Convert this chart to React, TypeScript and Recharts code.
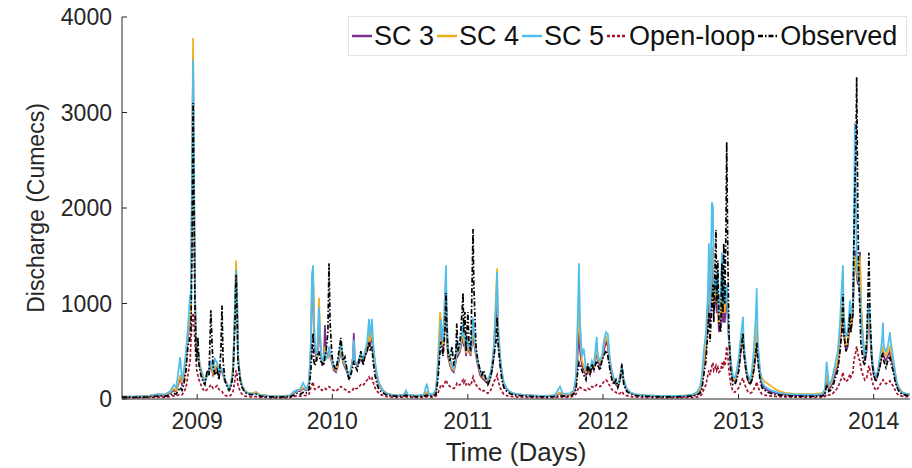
import React from 'react';
import { LineChart, Line, XAxis, YAxis, Label } from 'recharts';

// time axis: day number from the left edge of the record
const days = [
  0,35,70,97,116,130,140,146,151,157,162,167,173,178,184,186,189,192,194,197,200,202,205,208,213,219,224,230,235,240,243,246,251,257,262,267,270,273,278,284,289,294,300,305,308,311,313,319,324,332,340,351,362,373,400,427,454,
  464,473,481,489,497,505,510,513,516,518,521,527,532,535,540,545,548,551,556,559,562,567,572,578,583,591,597,602,608,613,618,624,626,629,635,640,645,651,656,662,667,670,675,678,683,689,694,702,713,724,745,761,767,772,794,815,823,829,
  840,848,853,859,861,867,872,875,877,880,886,891,896,902,904,907,913,918,921,923,926,929,934,937,942,948,950,956,961,967,972,977,983,988,994,999,1004,1010,1013,1015,1021,1026,1031,1039,1048,1061,1088,1115,1142,1169,1183,1191,1210,
  1220,1226,1231,1234,1237,1242,1247,1253,1258,1264,1269,1274,1282,1285,1291,1296,1301,1307,1312,1318,1323,1328,1334,1339,1345,1350,1355,1363,1374,1388,1412,1439,1466,1493,1520,1539,1552,
  1561,1566,1571,1577,1582,1585,1588,1593,1596,1598,1604,1606,1609,1612,1617,1620,1623,1625,1628,1631,1633,1636,1639,1644,1650,1655,1660,1666,1671,1677,1679,1685,1690,1696,1701,1706,1712,1714,1717,1723,1728,1736,1744,1755,1766,1777,1790,1817,1844,1871,1890,
  1898,1903,1909,1917,1925,1933,1939,1944,1947,1949,1955,1960,1966,1968,1974,1976,1979,1982,1984,1987,1990,1993,1995,2001,2006,2011,2014,2017,2020,2025,2030,2036,2041,2047,2052,2055,2057,2063,2068,2074,2076,2082,2087,2092,2098,2106,2117,2128,
];

const observed = [
  20,18,22,30,28,40,60,50,80,120,90,150,300,550,650,700,1500,3100,2200,1000,500,400,650,350,250,180,150,300,250,930,600,350,250,300,200,500,980,400,200,120,90,120,250,800,1300,900,400,200,120,70,50,45,50,30,22,20,25,
  40,60,50,70,60,100,300,500,690,400,350,450,500,400,380,350,450,500,700,1420,800,450,350,300,420,640,400,440,300,200,250,350,400,350,300,400,500,350,450,500,600,500,550,400,250,150,100,70,45,35,28,30,40,30,25,28,40,30,
  30,50,200,500,600,450,700,1110,800,500,400,550,350,500,790,500,600,900,1110,700,910,500,910,600,500,1780,1200,550,400,300,250,300,200,150,200,300,440,600,860,600,350,200,120,80,55,40,30,25,22,25,35,30,30,
  50,100,300,380,350,300,250,200,370,250,370,300,400,350,300,400,450,510,450,300,200,150,200,120,200,370,150,80,50,35,28,24,22,22,25,30,40,
  60,100,250,400,700,900,600,1000,1200,800,1770,1000,1450,800,700,1420,900,1630,1000,1800,2690,1500,700,300,150,150,200,300,500,690,500,300,200,150,200,300,500,590,400,200,120,90,70,55,45,40,35,30,28,28,30,
  40,150,80,100,200,300,500,700,1100,700,500,600,900,700,900,1500,2200,2600,3370,2000,1200,900,600,400,350,600,1000,1530,900,400,250,180,250,350,450,480,400,330,400,450,380,300,200,130,80,50,40,35,
];

const sc3 = [
  25,22,30,45,40,60,90,80,140,220,150,220,420,650,800,900,2200,3600,2500,1100,600,450,500,400,300,220,180,250,280,350,300,250,300,350,250,300,280,250,180,150,110,140,300,900,1400,1000,450,220,140,80,60,55,70,40,30,28,35,
  60,90,80,110,90,150,500,1100,1300,800,500,400,850,600,350,400,775,500,450,500,450,380,300,280,350,500,380,330,280,220,300,450,690,400,350,380,420,380,450,500,650,550,700,500,350,220,150,100,60,45,35,40,60,40,32,38,70,45,
  45,80,300,700,800,500,800,1200,700,450,350,300,280,400,550,450,500,600,700,550,600,450,600,500,450,750,600,450,350,250,220,200,180,160,220,300,450,900,1200,700,400,250,150,100,70,50,40,34,30,35,60,45,45,
  70,150,500,700,500,350,300,250,300,250,350,300,500,400,350,400,500,600,550,350,250,180,150,130,200,300,180,100,60,45,36,32,30,30,32,38,50,
  80,150,350,500,900,1200,800,1400,1300,900,1100,900,1000,700,800,1100,800,1000,800,1000,1100,800,600,350,200,180,250,350,500,650,500,300,200,160,200,300,500,700,450,250,150,110,90,70,60,52,45,40,38,38,42,
  60,200,100,150,250,350,600,800,1000,700,500,550,800,700,900,1200,1560,1400,1300,1200,1400,1540,1000,600,400,500,700,900,700,400,250,200,250,350,450,500,450,400,450,500,450,350,250,150,100,65,50,45,
];

const sc4 = [
  25,24,32,50,45,70,110,90,160,250,170,250,450,700,850,950,2400,3780,2600,1200,650,480,520,420,320,240,200,260,300,380,320,270,320,370,260,320,300,270,200,160,120,160,350,1000,1450,1050,500,240,150,90,65,60,75,45,32,30,40,
  70,100,90,120,100,160,550,1200,1390,850,550,420,1060,700,370,420,550,450,430,520,470,400,320,300,380,520,400,350,300,240,320,400,550,380,370,400,450,400,480,520,700,600,750,550,380,250,170,110,65,50,38,45,65,45,35,42,75,50,
  50,90,400,910,850,550,900,1300,750,500,380,320,300,420,600,480,520,650,750,600,620,480,620,520,480,800,650,480,380,280,240,220,200,180,250,350,500,1100,1370,800,450,280,170,110,75,55,42,36,32,38,70,50,50,
  80,200,700,1000,650,400,350,280,320,270,380,320,550,420,380,420,550,650,600,380,280,200,170,140,220,320,200,110,65,48,40,35,33,34,38,45,60,
  100,180,400,600,1000,1300,900,1600,1500,1000,1200,1000,1100,800,900,1300,900,1100,900,1100,1170,900,650,380,220,200,280,400,550,700,550,330,220,180,230,350,600,800,500,300,220,180,160,130,100,80,65,55,52,55,62,
  80,250,130,180,300,400,650,900,1100,800,550,600,850,750,950,1300,1500,1400,1350,1250,1450,1500,1050,650,450,550,750,950,750,450,300,220,280,400,500,550,500,450,500,550,500,400,300,180,120,75,55,50,
];

const sc5 = [
  25,24,30,48,50,80,150,120,250,440,200,300,500,750,1100,1000,2300,3550,2500,1100,600,450,500,380,300,220,190,240,320,400,350,300,420,380,280,330,320,280,200,150,110,150,300,950,1350,1000,450,220,140,80,60,55,60,40,30,28,35,
  80,90,100,170,100,180,600,1300,1400,900,550,450,960,650,380,450,500,420,450,550,480,420,330,350,400,600,420,380,300,230,300,420,620,400,360,420,480,420,500,600,840,650,840,600,400,250,160,100,60,45,35,45,90,45,34,45,160,50,
  55,100,350,700,830,600,1100,1400,900,550,420,350,320,450,620,500,550,700,800,650,650,500,650,550,500,850,700,500,400,300,260,250,220,200,260,350,550,1000,1330,800,450,280,170,110,75,55,42,35,30,40,130,55,60,
  90,250,900,1420,800,450,530,300,350,300,400,350,650,450,400,450,600,700,680,400,300,220,180,150,250,350,200,110,65,48,38,34,32,32,35,45,70,
  130,250,500,700,1100,1630,900,2060,2010,1100,1300,1100,1350,900,1100,1530,1000,1200,1000,1150,1200,900,650,400,230,220,300,450,650,860,600,350,250,200,300,500,900,1160,600,300,180,130,110,90,75,62,55,48,45,45,50,
  100,390,150,200,350,500,800,1200,1400,900,650,700,1030,850,1030,1600,2890,2000,1500,1300,1200,1100,900,600,450,600,900,1000,800,450,300,230,300,450,600,800,550,500,550,700,600,450,300,180,110,70,55,50,
];

const openLoop = [
  15,14,16,20,18,25,35,30,40,50,45,70,120,250,400,600,800,900,800,600,400,300,250,200,150,100,80,100,120,150,130,110,120,140,100,90,80,60,40,30,30,40,80,200,300,250,150,80,50,30,25,22,25,18,15,14,16,
  25,35,30,40,35,50,120,150,180,120,100,110,130,110,90,100,110,100,120,130,120,100,90,80,100,130,110,100,90,70,80,100,120,110,110,130,150,140,170,200,230,200,220,180,120,80,60,40,28,22,18,20,25,20,16,18,25,20,
  20,30,60,120,150,130,170,200,180,150,130,120,110,130,160,140,150,180,200,170,190,150,170,150,140,230,200,150,120,100,80,90,70,60,80,120,180,220,250,200,120,80,50,35,28,22,18,16,15,16,22,20,20,
  30,50,100,130,120,110,100,90,110,100,130,120,150,140,130,150,180,200,180,130,100,80,70,50,60,80,50,35,25,20,17,15,14,14,15,17,20,
  30,50,100,150,250,300,250,350,380,300,350,300,330,280,300,380,320,400,350,450,550,450,300,150,80,70,90,120,180,220,180,120,80,60,70,100,150,180,130,80,50,40,35,30,26,24,22,20,18,18,19,
  25,50,40,50,80,120,180,230,280,220,180,200,260,230,280,380,450,500,550,480,420,400,330,250,200,220,280,350,300,200,130,90,110,150,180,200,180,160,170,190,170,140,100,60,40,30,25,22,
];

const yearTicks = [203, 568, 934, 1299, 1665, 2030];
const yearLabels = ['2009', '2010', '2011', '2012', '2013', '2014'];
const dischargeTicks = [0, 1000, 2000, 3000, 4000];

const seriesInfo = [
  { key: 'sc3', name: 'SC 3', color: '#7E2F8E', dash: '' },
  { key: 'sc4', name: 'SC 4', color: '#EDB120', dash: '' },
  { key: 'sc5', name: 'SC 5', color: '#4DBEEE', dash: '' },
  { key: 'openLoop', name: 'Open-loop', color: '#A2142F', dash: '3 2' },
  { key: 'observed', name: 'Observed', color: '#000000', dash: '5 2 1.5 2' },
];

const data = days.map((day, i) => ({
  day,
  sc3: sc3[i],
  sc4: sc4[i],
  sc5: sc5[i],
  openLoop: openLoop[i],
  observed: observed[i],
}));

const FONT = '"Liberation Sans", Arial, Helvetica, sans-serif';
const TEXT = '#262626';

export default function App() {
  return (
    <div style={{ position: 'absolute', left: 0, top: 0, width: 912, height: 468, background: '#ffffff', fontFamily: FONT }}>
      <LineChart width={912} height={468} data={data} margin={{ top: 17, right: 2, bottom: 9, left: 22 }}>
        <XAxis
          dataKey="day"
          type="number"
          domain={[0, 2128]}
          ticks={yearTicks}
          interval={0}
          allowDataOverflow
          tickFormatter={(v: number) => yearLabels[yearTicks.indexOf(v)]}
          height={60}
          tickSize={-5}
          tickMargin={19}
          stroke={TEXT}
          tick={{ fill: TEXT, fontSize: 23, fontFamily: FONT }}
        >
          <Label value="Time (Days)" position="insideBottom" offset={-2} style={{ fill: TEXT, fontSize: 26, fontFamily: FONT }} />
        </XAxis>
        <YAxis
          type="number"
          domain={[0, 4000]}
          ticks={dischargeTicks}
          interval={0}
          width={100}
          tickSize={-5}
          tickMargin={15}
          stroke={TEXT}
          tick={{ fill: TEXT, fontSize: 23, fontFamily: FONT }}
        >
          <Label value="Discharge (Cumecs)" angle={-90} position="insideLeft" offset={14} style={{ textAnchor: 'middle', fill: TEXT, fontSize: 23, fontFamily: FONT }} />
        </YAxis>
        {seriesInfo.map((s) => (
          <Line
            key={s.key}
            dataKey={s.key}
            name={s.name}
            type="linear"
            stroke={s.color}
            strokeWidth={1.7}
            strokeDasharray={s.dash || undefined}
            dot={false}
            activeDot={false}
            isAnimationActive={false}
          />
        ))}
      </LineChart>
      <div
        style={{
          position: 'absolute',
          left: 348,
          top: 16,
          width: 559,
          height: 40,
          boxSizing: 'border-box',
          border: '1px solid #e3e3e3',
          background: '#ffffff',
          display: 'flex',
          alignItems: 'center',
          paddingLeft: 3,
          fontSize: 27,
          color: '#111111',
          whiteSpace: 'nowrap',
        }}
      >
        {seriesInfo.map((s) => (
          <div key={s.key} style={{ display: 'flex', alignItems: 'center', marginRight: 3 }}>
            <svg width={20} height={10} style={{ display: 'block' }}>
              <line x1={0} y1={5} x2={20} y2={5} stroke={s.color} strokeWidth={2.5} strokeDasharray={s.dash || undefined} />
            </svg>
            <span style={{ marginLeft: 2 }}>{s.name}</span>
          </div>
        ))}
      </div>
    </div>
  );
}
